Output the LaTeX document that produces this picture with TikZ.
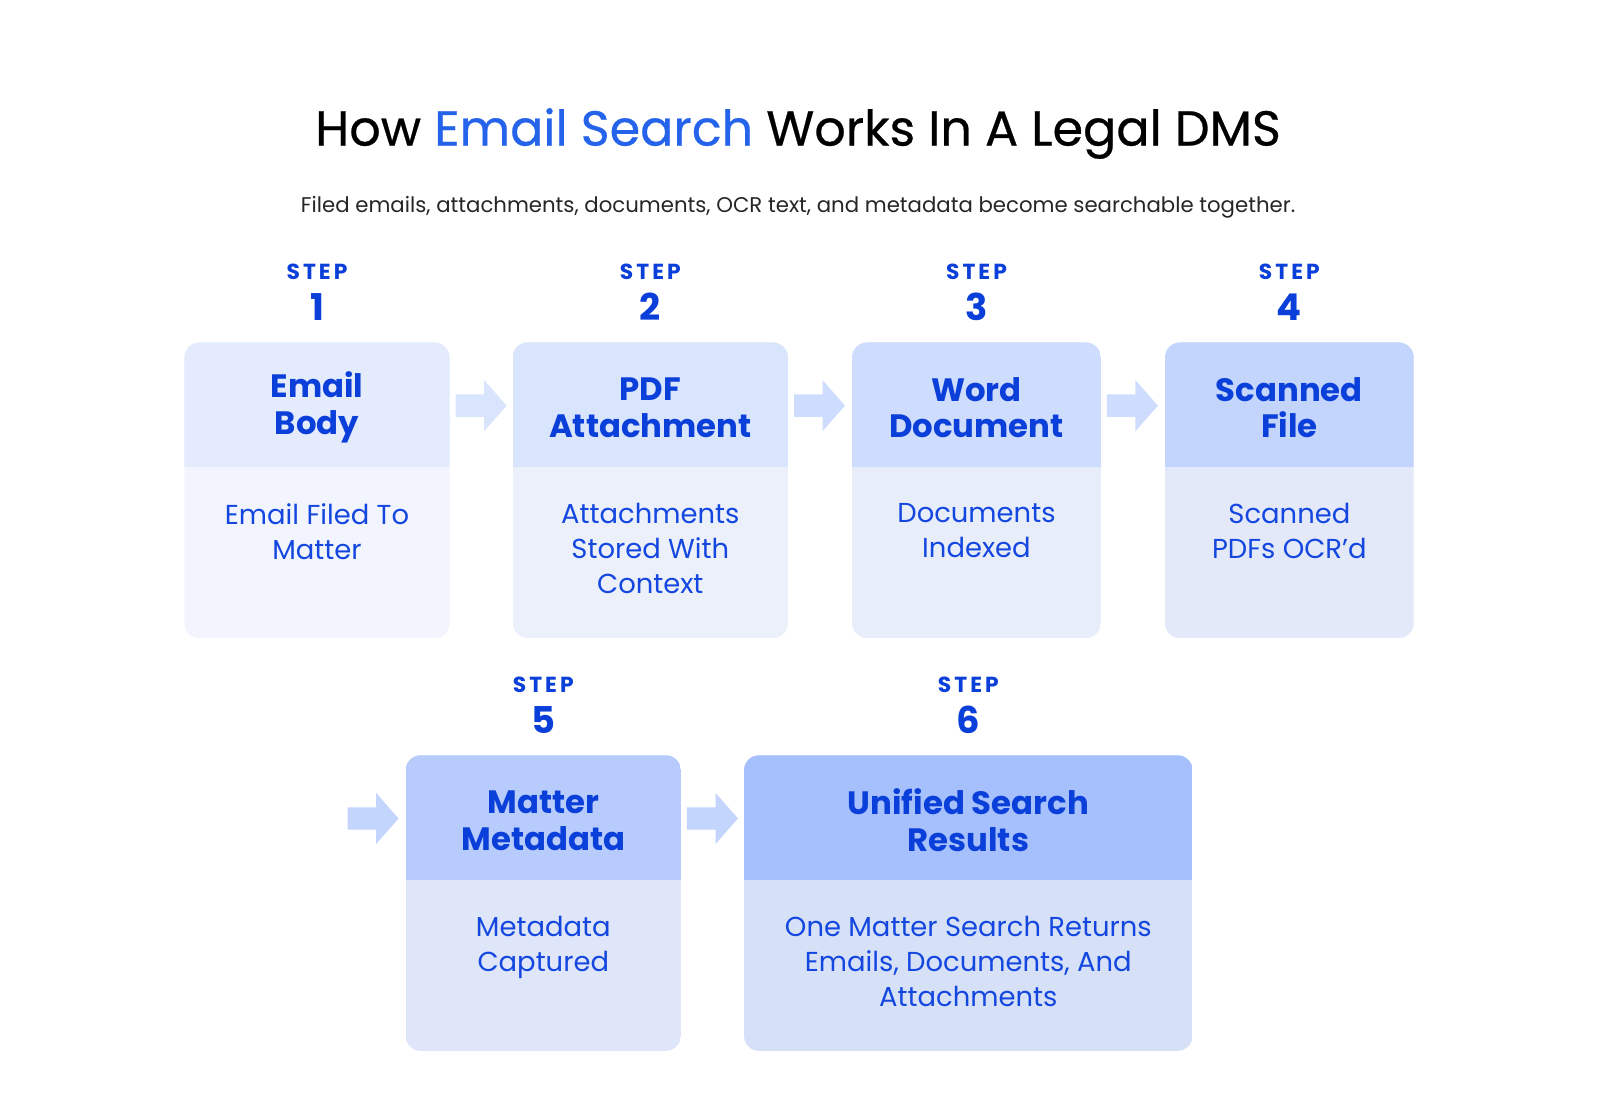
\documentclass[tikz,border=0pt]{standalone}
\usepackage{fontspec}
\setmainfont{Poppins}
\newfontfamily\headfont{Poppins}[FakeBold=0.5]
\newfontfamily\stepfont{Poppins}[LetterSpace=14]
\usetikzlibrary{positioning, calc}
\definecolor{titleblue}{HTML}{2563EB}
\definecolor{stepblue}{HTML}{0B3FD9}
\definecolor{bodyblue}{HTML}{1447DF}
\definecolor{headA}{HTML}{E3EBFD}\definecolor{bodyA}{HTML}{F2F5FD}
\definecolor{headB}{HTML}{D9E4FD}\definecolor{bodyB}{HTML}{ECF0FB}
\definecolor{headC}{HTML}{CEDCFD}\definecolor{bodyC}{HTML}{E8EDFA}
\definecolor{headD}{HTML}{C3D4FD}\definecolor{bodyD}{HTML}{E3E9F9}
\definecolor{headE}{HTML}{B7CCFD}\definecolor{bodyE}{HTML}{DFE6F9}
\definecolor{headF}{HTML}{A5C0FD}\definecolor{bodyF}{HTML}{D6E1F8}
\newcommand{\StepCard}[9]{%
  % #1 name, #2 left, #3 right, #4 top, #5 header colour, #6 body colour, #7 number, #8 title, #9 text
  \begin{scope}
    \clip[rounded corners=0.15cm] (#2,#4) rectangle (#3,#4+290);
    \fill[#6] (#2,#4) rectangle (#3,#4+290);
    \fill[#5] (#2,#4) rectangle (#3,#4+122);
  \end{scope}
  \node[card title] (#1) at ($(#2,#4+64)!0.5!(#3,#4+64)$) {#8};
  \node[card text, anchor=north] (#1text) at ($(#2,#4+157)!0.5!(#3,#4+157)$) {#9};
  \node[step word] (#1step) at ($(#2,#4-69)!0.5!(#3,#4-69)$) {STEP};
  \node[step num] at ($(#2,#4-35)!0.5!(#3,#4-35)$) {#7};
}
\tikzset{
  card title/.style={font=\bfseries\fontsize{9.2}{10.5}\selectfont, text=stepblue, align=center, inner sep=0pt},
  card text/.style={font=\fontsize{7.8}{10}\selectfont, text=bodyblue, align=center, inner sep=0pt},
  step word/.style={font=\stepfont\bfseries\fontsize{6.2}{7}\selectfont, text=stepblue, inner sep=0pt},
  step num/.style={font=\bfseries\fontsize{10.5}{12}\selectfont, text=stepblue, inner sep=0pt},
  flow/.pic={
    \fill[#1] (-25,-11) -- (3,-11) -- (3,-25) -- (25,0) -- (3,25) -- (3,11) -- (-25,11) -- cycle;
    \coordinate (-tip) at (25,0);
  },
}
\begin{document}
\begin{tikzpicture}[x=0.0102cm, y=-0.0102cm]
  \useasboundingbox (0,0) rectangle (16cm,-11cm);
  \fill[white] (0,0) rectangle (16cm,-11cm);

  \node[font=\headfont\fontsize{14}{17}\selectfont] (title) at (783,131)
    {How \textcolor{titleblue}{Email Search} Works In A Legal DMS};
  \node[font=\fontsize{6.05}{7}\selectfont, text=black!85] (subtitle) at (783,203)
    {Filed emails, attachments, documents, OCR text, and metadata become searchable together.};

  \StepCard{email}{181}{441}{336}{headA}{bodyA}{1}{Email\\Body}{Email Filed To\\Matter}
  \StepCard{pdf}{503}{773}{336}{headB}{bodyB}{2}{PDF\\Attachment}{Attachments\\Stored With\\Context}
  \StepCard{word}{836}{1080}{336}{headC}{bodyC}{3}{Word\\Document}{Documents\\Indexed}
  \StepCard{scan}{1143}{1387}{336}{headD}{bodyD}{4}{Scanned\\File}{Scanned\\PDFs OCR’d}
  \StepCard{meta}{398}{668}{741}{headE}{bodyE}{5}{Matter\\Metadata}{Metadata\\Captured}
  \StepCard{unified}{730}{1170}{741}{headF}{bodyF}{6}{Unified Search\\Results}{One Matter Search Returns\\Emails, Documents, And\\Attachments}

  \pic (a1) at (472,398) {flow=headB};
  \pic (a2) at (804,398) {flow=headC};
  \pic (a3) at (1111,398) {flow=headC};
  \pic (a4) at (366,803) {flow=headD};
  \pic (a5) at (699,803) {flow=headD};
\end{tikzpicture}
\end{document}
